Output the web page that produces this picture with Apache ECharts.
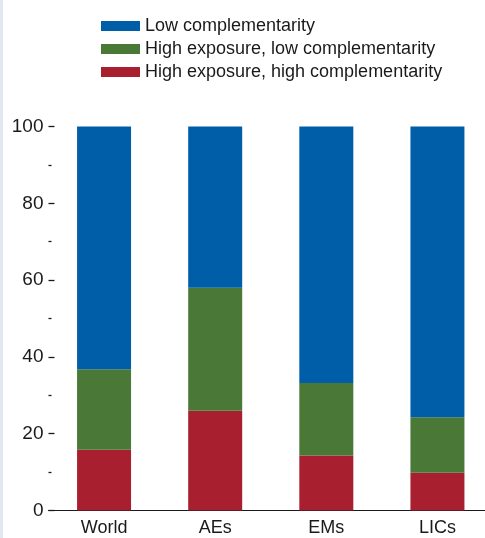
<!DOCTYPE html>
<html>
<head>
<meta charset="utf-8">
<script src="https://cdn.jsdelivr.net/npm/echarts@6/dist/echarts.min.js"></script>
<style>
html,body{margin:0;padding:0;background:#fff;overflow:hidden;}
#c{width:493px;height:538px;}
</style>
</head>
<body>
<div id="c"></div>
<script>
var categories = ['World', 'AEs', 'EMs', 'LICs'];
var highHigh = [15.8, 26.0, 14.3, 9.8];
var highLow = [21.0, 32.0, 18.9, 14.5];
var lowComp = [63.2, 42.0, 66.8, 75.7];
var seriesNames = ['Low complementarity', 'High exposure, low complementarity', 'High exposure, high complementarity'];
var yTicks = [0, 20, 40, 60, 80, 100];

var chart = echarts.init(document.getElementById('c'), null, {renderer: 'canvas'});
var font = 'Liberation Sans, Arial, sans-serif';
chart.setOption({
  animation: false,
  graphic: [{
    type: 'rect', left: 0, top: 0,
    shape: {width: 3, height: 538},
    style: {fill: '#e3e7f3'}
  }],
  legend: {
    orient: 'vertical',
    left: 96,
    top: 12,
    itemWidth: 39,
    itemHeight: 10,
    itemGap: 5,
    icon: 'rect',
    data: seriesNames,
    textStyle: {fontFamily: font, fontSize: 18, color: '#1a1a1a'}
  },
  grid: {left: 48.5, right: 0, top: 126.5, bottom: 27.5},
  xAxis: {
    type: 'category',
    data: categories,
    axisLine: {lineStyle: {color: '#1a1a1a', width: 1}},
    axisTick: {show: false},
    axisLabel: {fontFamily: font, fontSize: 18, color: '#1a1a1a', margin: 9}
  },
  yAxis: {
    type: 'value',
    min: yTicks[0],
    max: yTicks[yTicks.length - 1],
    interval: 20,
    axisLine: {show: false},
    axisTick: {show: true, inside: true, length: 6, lineStyle: {color: '#1a1a1a', width: 1.3}},
    minorTick: {show: true, splitNumber: 2, length: 3, lineStyle: {color: '#1a1a1a', width: 1.3}},
    splitLine: {show: false},
    axisLabel: {fontFamily: font, fontSize: 19, color: '#1a1a1a', margin: 5}
  },
  series: [
    {name: seriesNames[2], type: 'bar', stack: 's', barWidth: 54, data: highHigh, itemStyle: {color: '#a81f30'}},
    {name: seriesNames[1], type: 'bar', stack: 's', barWidth: 54, data: highLow, itemStyle: {color: '#4a7836'}},
    {name: seriesNames[0], type: 'bar', stack: 's', barWidth: 54, data: lowComp, itemStyle: {color: '#005ea8'}}
  ]
});
</script>
</body>
</html>
